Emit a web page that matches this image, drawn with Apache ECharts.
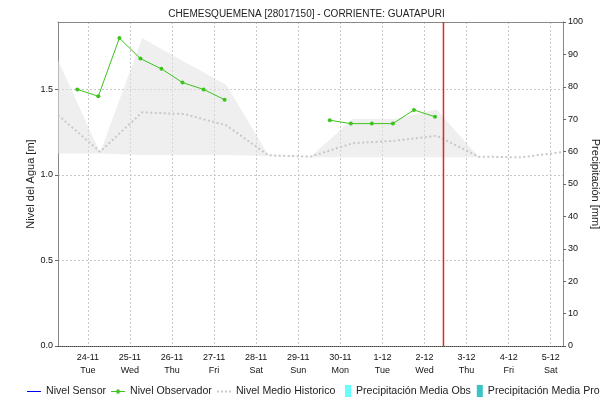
<!DOCTYPE html>
<html>
<head>
<meta charset="utf-8">
<script src="https://cdn.jsdelivr.net/npm/echarts@6/dist/echarts.min.js"></script>
<style>
  html, body { margin: 0; padding: 0; background: #fff; }
  #chart { width: 613px; height: 403px; }
</style>
</head>
<body>
<div id="chart"></div>
<script>
// Station and axis range
const stationTitle = 'CHEMESQUEMENA [28017150] - CORRIENTE: GUATAPURI';
const rangeStart = '2020-11-23 07:00:00';
const rangeEnd = '2020-12-05 07:00:00';
const nowMark = '2020-12-02 10:50:00';

// Historical level (daily, 07:00): mean, maximum and minimum [m]
const histTimes = [
  '2020-11-23 07:00:00', '2020-11-24 07:00:00', '2020-11-25 07:00:00',
  '2020-11-26 07:00:00', '2020-11-27 07:00:00', '2020-11-28 07:00:00',
  '2020-11-29 07:00:00', '2020-11-30 07:00:00', '2020-12-01 07:00:00',
  '2020-12-02 07:00:00', '2020-12-03 07:00:00', '2020-12-04 07:00:00',
  '2020-12-05 07:00:00'
];
const histMean = [1.35, 1.136, 1.366, 1.356, 1.29, 1.115, 1.107, 1.185, 1.20, 1.229, 1.107, 1.103, 1.134];
const histMax  = [1.671, 1.13, 1.80, 1.662, 1.525, 1.115, 1.105, 1.327, 1.327, 1.383, 1.103, 1.103, 1.103];
const histMin  = [1.125, 1.125, 1.117, 1.117, 1.117, 1.11, 1.103, 1.103, 1.103, 1.103, 1.103, 1.103, 1.103];

// Observer readings (06:00 / 18:00) [m]; null marks the missing readings
const obsTimes = [
  '2020-11-23 18:00:00', '2020-11-24 06:00:00', '2020-11-24 18:00:00',
  '2020-11-25 06:00:00', '2020-11-25 18:00:00', '2020-11-26 06:00:00',
  '2020-11-26 18:00:00', '2020-11-27 06:00:00', '2020-11-28 12:00:00',
  '2020-11-29 18:00:00', '2020-11-30 06:00:00', '2020-11-30 18:00:00',
  '2020-12-01 06:00:00', '2020-12-01 18:00:00', '2020-12-02 06:00:00'
];
const obsLevel = [1.50, 1.46, 1.80, 1.68, 1.62, 1.54, 1.50, 1.44, null, 1.32, 1.30, 1.30, 1.30, 1.38, 1.34];

// Sensor level and precipitation (no values in this period)
const sensorLevel = [];
const precipObs = [];
const precipPro = [];

// Axis ticks
const levelTicks = [0, 0.5, 1.0, 1.5];
const levelMax = 1.894;
const precipMax = 100;
const weekDays = ['Sun', 'Mon', 'Tue', 'Wed', 'Thu', 'Fri', 'Sat'];

const FONT = 'Liberation Sans, Arial, sans-serif';
const DAY = 24 * 3600 * 1000;

// 'YYYY-MM-DD HH:mm:ss' (local time) -> epoch ms
function ms(s) {
  const [d, t] = s.split(' ');
  const [y, mo, da] = d.split('-').map(Number);
  const [h, mi, se] = t.split(':').map(Number);
  return new Date(y, mo - 1, da, h, mi, se).getTime();
}
const pair = (ts, vs) => ts.map((t, i) => [ms(t), vs[i]]);

// Legend glyphs
const ICON_LINE = 'path://M0,5.5H14V6.5H0Z';
const ICON_LINE_DOT = 'path://M0,5.5H14V6.5H0Z M5.5,4H8.5V8H5.5Z';
const ICON_DOTS = 'path://M0,5H2V7H0Z M4,5H6V7H4Z M8,5H10V7H8Z M12,5H14V7H12Z';

const chart = echarts.init(document.getElementById('chart'), null, { renderer: 'canvas' });

chart.setOption({
  animation: false,
  backgroundColor: '#ffffff',
  textStyle: { fontFamily: FONT },
  title: {
    text: stationTitle,
    left: 'center',
    top: 4,
    textStyle: { fontSize: 10, fontWeight: 'normal', color: '#222', fontFamily: FONT }
  },
  grid: { left: 58, right: 50, top: 22, bottom: 57, containLabel: false },
  legend: [
    {
      left: 27, top: 386, padding: 0,
      itemWidth: 14, itemHeight: 12, itemGap: 5,
      textStyle: { fontSize: 10.6, color: '#222', fontFamily: FONT },
      data: [
        { name: 'Nivel Sensor', icon: ICON_LINE, itemStyle: { color: '#0000ee' } },
        { name: 'Nivel Observador', icon: ICON_LINE_DOT },
        { name: 'Nivel Medio Historico', icon: ICON_DOTS }
      ]
    },
    {
      left: 345, top: 385, padding: 0, width: 268,
      itemWidth: 6, itemHeight: 12, itemGap: 6,
      textStyle: { fontSize: 10.6, color: '#222', fontFamily: FONT },
      data: [
        { name: 'Precipitación Media Obs', icon: 'rect' },
        { name: 'Precipitación Media Pro', icon: 'rect' }
      ]
    }
  ],
  xAxis: [
    {
      type: 'time',
      min: ms(rangeStart),
      max: ms(rangeEnd),
      splitNumber: 12,
      minInterval: DAY,
      maxInterval: DAY,
      axisLine: { show: true, onZero: false, lineStyle: { color: '#444', type: [1, 1], width: 1 } },
      axisTick: { show: false },
      axisLabel: {
        fontSize: 9, color: '#111', margin: 5, lineHeight: 13, fontFamily: FONT,
        formatter: function (v) {
          const d = new Date(v);
          return d.getDate() + '-' + (d.getMonth() + 1) + '\n' + weekDays[d.getDay()];
        }
      },
      splitLine: { show: true, lineStyle: { color: '#c8c8c8', type: [2, 2], width: 1 } }
    },
    {
      // frame line along the top of the plot; also hosts the (empty) precipitation bars
      type: 'value', position: 'top', min: 0, max: 1,
      axisLine: { show: true, onZero: false, lineStyle: { color: '#888', width: 1 } },
      axisTick: { show: false }, axisLabel: { show: false }, splitLine: { show: false }
    }
  ],
  yAxis: [
    {
      type: 'value',
      min: 0, max: levelMax, interval: 0.5,
      name: 'Nivel del Agua [m]',
      nameLocation: 'middle', nameGap: 22, nameMoveOverlap: false,
      nameTextStyle: { fontSize: 11, color: '#222', fontFamily: FONT },
      axisLine: { show: true, onZero: false, lineStyle: { color: '#888', width: 1 } },
      axisTick: { show: true, length: 3, lineStyle: { color: '#666' }, customValues: levelTicks },
      axisLabel: {
        fontSize: 9, color: '#111', margin: 5, fontFamily: FONT, customValues: levelTicks,
        formatter: v => v.toFixed(1)
      },
      splitLine: { show: true, lineStyle: { color: '#c8c8c8', type: [2, 2], width: 1 } }
    },
    {
      type: 'value',
      min: 0, max: precipMax, interval: 10,
      position: 'right',
      name: 'Precipitación [mm]',
      nameLocation: 'middle', nameGap: 27, nameRotate: -90, nameMoveOverlap: false,
      nameTextStyle: { fontSize: 11, color: '#222', fontFamily: FONT },
      axisLine: { show: true, onZero: false, lineStyle: { color: '#888', width: 1 } },
      axisTick: { show: true, length: 3, lineStyle: { color: '#666' } },
      axisLabel: { fontSize: 9, color: '#111', margin: 5, fontFamily: FONT },
      splitLine: { show: false }
    }
  ],
  series: [
    {
      name: 'histBase', type: 'line', stack: 'hist', silent: true,
      symbol: 'none', lineStyle: { opacity: 0 },
      data: pair(histTimes, histMin), z: 1
    },
    {
      name: 'histRange', type: 'line', stack: 'hist', silent: true,
      symbol: 'none', lineStyle: { opacity: 0 },
      areaStyle: { color: '#e2e2e2', opacity: 0.55 },
      data: histTimes.map((t, i) => [ms(t), +(histMax[i] - histMin[i]).toFixed(3)]), z: 1
    },
    {
      name: 'Nivel Medio Historico', type: 'line',
      symbol: 'none',
      lineStyle: { color: '#c8c8c8', width: 2, type: [2, 2.5] },
      itemStyle: { color: '#c8c8c8' },
      data: pair(histTimes, histMean), z: 2
    },
    {
      name: 'Nivel Sensor', type: 'line', symbol: 'none',
      lineStyle: { color: '#0000ee', width: 1 }, itemStyle: { color: '#0000ee' },
      data: sensorLevel, z: 3
    },
    {
      name: 'Nivel Observador', type: 'line',
      symbol: 'circle', symbolSize: 4, showAllSymbol: true,
      lineStyle: { color: '#3cc41c', width: 1 },
      itemStyle: { color: '#3cc41c' },
      connectNulls: false,
      data: pair(obsTimes, obsLevel), z: 4
    },
    {
      // current-time marker
      name: 'now', type: 'line', symbol: 'none', silent: true,
      lineStyle: { color: '#ee2222', width: 1.5 },
      itemStyle: { color: '#ee2222' },
      data: [[ms(nowMark), 0], [ms(nowMark), levelMax]], z: 10
    },
    {
      name: 'Precipitación Media Obs', type: 'bar', xAxisIndex: 1, yAxisIndex: 1,
      itemStyle: { color: '#66ffff' }, data: precipObs
    },
    {
      name: 'Precipitación Media Pro', type: 'bar', xAxisIndex: 1, yAxisIndex: 1,
      itemStyle: { color: '#3cc4c4' }, data: precipPro
    }
  ]
});
</script>
</body>
</html>
